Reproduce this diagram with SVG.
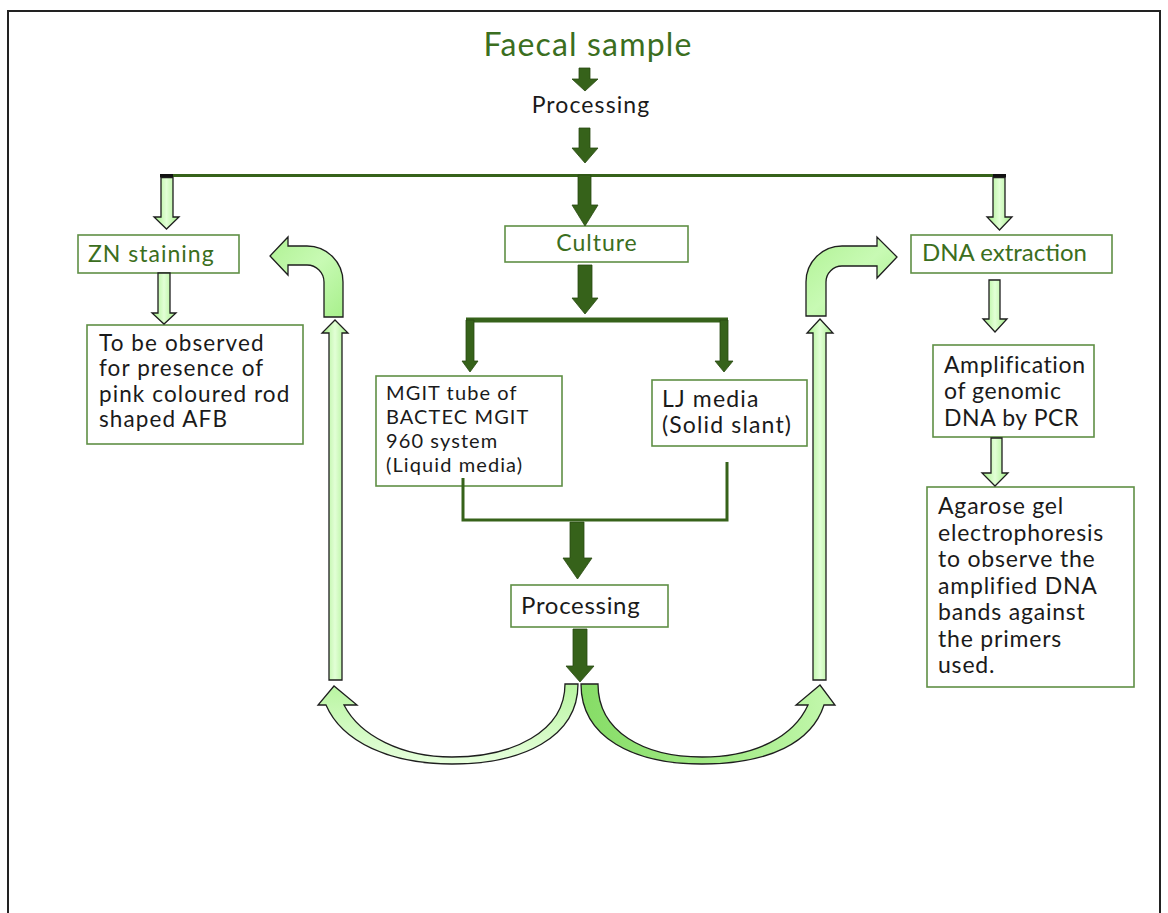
<svg xmlns="http://www.w3.org/2000/svg" width="1168" height="913" viewBox="0 0 1168 913">
<defs>
<linearGradient id="lgV" x1="0" y1="0" x2="1" y2="0">
<stop offset="0" stop-color="#a4ee88"/><stop offset="0.5" stop-color="#e2ffd6"/><stop offset="1" stop-color="#a4ee88"/>
</linearGradient>
<linearGradient id="lgB" x1="0" y1="0" x2="1" y2="1">
<stop offset="0" stop-color="#b0f294"/><stop offset="0.5" stop-color="#c8fab4"/><stop offset="1" stop-color="#a8f08c"/>
</linearGradient>
<linearGradient id="lgL" x1="0" y1="0" x2="0" y2="1">
<stop offset="0" stop-color="#b8f4a0"/><stop offset="1" stop-color="#e6ffdc"/>
</linearGradient>
<linearGradient id="lgR" x1="0" y1="0" x2="1" y2="0">
<stop offset="0" stop-color="#86dc66"/><stop offset="0.6" stop-color="#a6ec8a"/><stop offset="1" stop-color="#c4f8ae"/>
</linearGradient>
</defs>
<style>
.box{fill:#ffffff;stroke:#5f8f45;stroke-width:1.6}
.t{font-family:Lato,"Liberation Sans",sans-serif;fill:#1a1a1a}
.g{font-family:Lato,"Liberation Sans",sans-serif;fill:#3b6e20}
.dk{fill:#36621a;stroke:#2a4a12;stroke-width:0.8}
.lt{fill:url(#lgV);stroke:#1e1e1e;stroke-width:1.3}
.ln{fill:none;stroke:#36621a}
</style>
<rect width="1168" height="913" fill="#ffffff"/>
<path d="M 8 925 L 8 11 L 1160 11 L 1160 925" fill="none" stroke="#222" stroke-width="2"/>

<g id="title"><text class="g" x="588" y="56" font-size="32" letter-spacing="1.15" text-anchor="middle">Faecal sample</text></g>
<g id="processing1"><text class="t" x="591" y="113" font-size="23" letter-spacing="1.1" text-anchor="middle">Processing</text></g>

<g id="zn">
<rect class="box" x="78" y="235" width="161" height="38"/>
<text class="g" x="88" y="262" font-size="23" letter-spacing="1">ZN staining</text>
</g>
<g id="observe">
<rect class="box" x="87" y="325" width="216" height="119"/>
<text class="t" font-size="22.5" letter-spacing="1.1"><tspan x="99" y="351">To be observed</tspan><tspan x="99" y="376">for presence of</tspan><tspan x="99" y="402">pink coloured rod</tspan><tspan x="99" y="427">shaped AFB</tspan></text>
</g>
<g id="culture">
<rect class="box" x="505" y="226" width="183" height="36"/>
<text class="g" x="597" y="251" font-size="23" letter-spacing="1" text-anchor="middle">Culture</text>
</g>
<g id="mgit">
<rect class="box" x="376" y="376" width="186" height="110"/>
<text class="t" font-size="20" letter-spacing="1.1"><tspan x="386" y="400">MGIT tube of</tspan><tspan x="386" y="424">BACTEC MGIT</tspan><tspan x="386" y="448">960 system</tspan><tspan x="386" y="472">(Liquid media)</tspan></text>
</g>
<g id="lj">
<rect class="box" x="652" y="380" width="155" height="66"/>
<text class="t" font-size="23" letter-spacing="1.15"><tspan x="662" y="407">LJ media</tspan><tspan x="662" y="433">(Solid slant)</tspan></text>
</g>
<g id="processing2">
<rect class="box" x="511" y="585" width="157" height="42"/>
<text class="t" x="521" y="614" font-size="24" letter-spacing="0.7">Processing</text>
</g>
<g id="dna">
<rect class="box" x="911" y="235" width="201" height="38"/>
<text class="g" x="922" y="261" font-size="24">DNA extraction</text>
</g>
<g id="amp">
<rect class="box" x="933" y="345" width="161" height="92"/>
<text class="t" font-size="23" letter-spacing="0.6"><tspan x="944" y="373">Amplification</tspan><tspan x="944" y="399">of genomic</tspan><tspan x="944" y="426">DNA by PCR</tspan></text>
</g>
<g id="agarose">
<rect class="box" x="927" y="487" width="207" height="200"/>
<text class="t" font-size="23" letter-spacing="0.8"><tspan x="938" y="514">Agarose gel</tspan><tspan x="938" y="541">electrophoresis</tspan><tspan x="938" y="567">to observe the</tspan><tspan x="938" y="594">amplified DNA</tspan><tspan x="938" y="620">bands against</tspan><tspan x="938" y="647">the primers</tspan><tspan x="938" y="673">used.</tspan></text>
</g>

<g id="connectors">
<line class="ln" x1="160" y1="175.5" x2="1006" y2="175.5" stroke-width="3"/>
<rect x="160" y="174" width="13" height="3.5" fill="#111"/>
<rect x="993" y="174" width="13" height="3.5" fill="#111"/>
<path class="dk" d="M579 68 L590 68 L590 79 L598 79 L585 91 L572 79 L579 79 Z"/>
<path class="dk" d="M579 128 L590 128 L590 148 L598 148 L585 163 L572 148 L579 148 Z"/>
<path class="dk" d="M578 175 L591 175 L591 205 L598 205 L585 226 L572 205 L578 205 Z"/>
<path class="dk" d="M578 265 L592 265 L592 298 L598 298 L585 314 L572 298 L578 298 Z"/>
<path class="dk" d="M570 522 L584 522 L584 558 L592 558 L577.5 579 L563 558 L570 558 Z"/>
<path class="dk" d="M573 629 L587 629 L587 666 L594 666 L580 682 L566 666 L573 666 Z"/>
<rect x="466" y="317.5" width="262" height="5" fill="#36621a"/>
<path class="dk" d="M466 320 L474 320 L474 361 L478 361 L470 372 L462 361 L466 361 Z"/>
<path class="dk" d="M720 320 L728 320 L728 361 L733 361 L724 372 L715 361 L720 361 Z"/>
<polyline class="ln" points="463,478 463,520 727,520 727,462" stroke-width="3"/>
<path class="lt" d="M161 177.5 L173 177.5 L173 217 L179 217 L166.5 229 L154 217 L161 217 Z"/>
<path class="lt" d="M158 273 L170 273 L170 313 L176 313 L164 324 L152 313 L158 313 Z"/>
<path class="lt" d="M993 177.5 L1005 177.5 L1005 217 L1012 217 L999.5 230 L987 217 L993 217 Z"/>
<path class="lt" d="M989 280 L1000 280 L1000 319 L1007 319 L995 332 L983 319 L989 319 Z"/>
<path class="lt" d="M991 438 L1002 438 L1002 473 L1008 473 L995 486 L982 473 L991 473 Z"/>
<path class="lt" d="M329 680 L342 680 L342 333 L348 333 L335 320 L322 333 L329 333 Z"/>
<path class="lt" d="M813 680 L826 680 L826 333 L833 333 L820 319 L807 333 L813 333 Z"/>
<path fill="url(#lgB)" stroke="#1e1e1e" stroke-width="1.3" d="M343 317 L343 282 A36 36 0 0 0 307 246 L288 246 L288 237 L270 256 L288 275 L288 265 L307 265 A17 17 0 0 1 324 282 L324 317 Z"/>
<path fill="url(#lgB)" stroke="#1e1e1e" stroke-width="1.3" d="M806 316 L806 282 A36 36 0 0 1 842 246 L877 246 L877 237 L897 257 L877 278 L877 266 L842 266 A16 16 0 0 0 826 282 L826 316 Z"/>
<path fill="url(#lgL)" stroke="#1e1e1e" stroke-width="1.3" d="M578 684 C578 738 522 764 452 764 C390 764 342 742 326 705 L318 705 L334 686 L357 705 L344 705 C360 736 402 757 452 757 C512 757 565 732 565 684 Z"/>
<path fill="url(#lgR)" stroke="#1e1e1e" stroke-width="1.3" d="M581 684 C581 738 634 764 702 764 C770 764 812 742 824 705 L835 705 L820 685 L796 705 L808 705 C794 736 756 757 702 757 C644 757 598 732 598 684 Z"/>
</g>
</svg>
